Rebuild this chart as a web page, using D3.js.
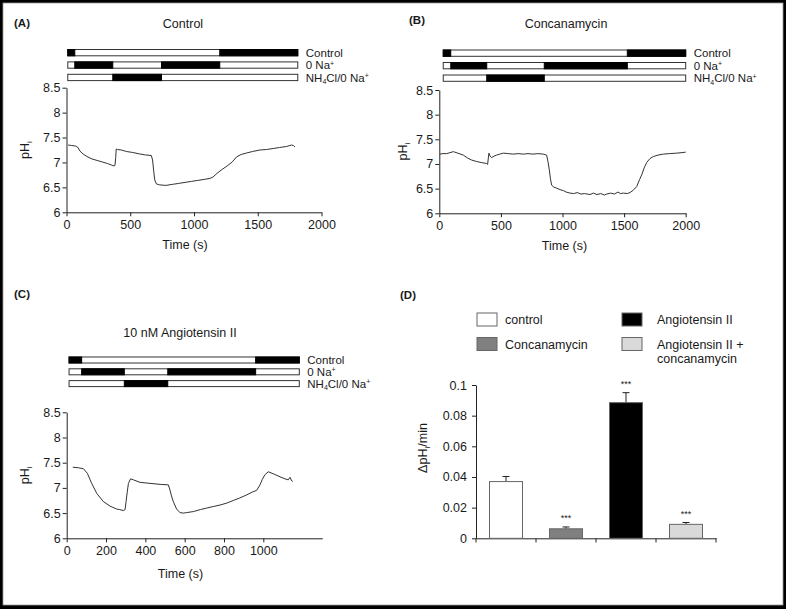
<!DOCTYPE html>
<html>
<head>
<meta charset="utf-8">
<script src="https://cdn.jsdelivr.net/npm/d3@7"></script>
<style>
  body { margin: 0; background: #000; }
  svg text { font-family: "Liberation Sans", Arial, sans-serif; fill: #1a1a1a; }
</style>
</head>
<body>
<svg id="fig" width="786" height="609"></svg>
<script>
// ---- data ----
// pHi traces, [time (s), pHi]
const traceA = [[13,7.35],[40,7.34],[70,7.33],[90,7.30],[105,7.23],[130,7.17],[160,7.12],[200,7.07],[240,7.04],[280,7.01],[320,6.98],[350,6.95],[372,6.93],[380,6.94],[386,7.10],[390,7.27],[400,7.26],[430,7.25],[470,7.22],[520,7.20],[575,7.17],[620,7.15],[665,7.14],[675,7.05],[683,6.85],[692,6.65],[705,6.57],[730,6.55],[780,6.54],[830,6.56],[880,6.58],[930,6.60],[980,6.62],[1030,6.64],[1080,6.66],[1125,6.68],[1150,6.71],[1180,6.78],[1220,6.86],[1260,6.93],[1300,7.01],[1333,7.11],[1370,7.16],[1412,7.19],[1460,7.22],[1516,7.25],[1570,7.26],[1621,7.28],[1670,7.30],[1725,7.32],[1765,7.35],[1780,7.34],[1792,7.31]]

const traceB = [[5,7.20],[30,7.21],[60,7.21],[87,7.23],[114,7.25],[150,7.22],[195,7.18],[230,7.12],[262,7.08],[303,7.05],[340,7.03],[384,7.01],[392,6.99],[398,7.12],[403,7.22],[412,7.16],[425,7.13],[445,7.16],[465,7.18],[490,7.20],[520,7.22],[560,7.21],[600,7.20],[640,7.21],[682,7.20],[720,7.21],[760,7.20],[800,7.21],[844,7.20],[871,7.18],[882,7.05],[893,6.88],[902,6.70],[912,6.57],[930,6.53],[953,6.51],[980,6.48],[1007,6.46],[1030,6.43],[1061,6.41],[1090,6.40],[1120,6.42],[1150,6.39],[1180,6.40],[1223,6.38],[1250,6.41],[1280,6.38],[1310,6.40],[1340,6.37],[1359,6.39],[1390,6.41],[1420,6.39],[1450,6.43],[1470,6.40],[1494,6.41],[1525,6.40],[1548,6.42],[1575,6.47],[1602,6.54],[1625,6.68],[1643,6.78],[1663,6.92],[1683,7.03],[1710,7.11],[1737,7.15],[1775,7.18],[1818,7.20],[1870,7.21],[1927,7.22],[1970,7.23],[2000,7.24]]

const traceC = [[31,7.41],[59,7.40],[85,7.38],[105,7.29],[127,7.09],[153,6.89],[186,6.73],[220,6.64],[254,6.58],[270,6.57],[288,6.55],[297,6.57],[302,6.73],[308,6.92],[314,7.09],[325,7.18],[339,7.16],[373,7.11],[424,7.09],[475,7.07],[517,7.06],[525,6.96],[533,6.84],[542,6.73],[559,6.58],[576,6.51],[593,6.50],[610,6.51],[644,6.53],[680,6.57],[712,6.60],[745,6.63],[780,6.66],[815,6.70],[847,6.75],[880,6.80],[915,6.86],[945,6.92],[966,6.95],[983,7.06],[995,7.17],[1008,7.26],[1025,7.32],[1051,7.28],[1085,7.22],[1110,7.18],[1127,7.16],[1136,7.21],[1144,7.14],[1150,7.13]]

// protocol bars: full extent and black segments per row (Control, 0 Na+, NH4Cl/0 Na+)
const protoRangeA = [10, 1814]
const protoBlackA = [[[10,65],[1202,1814]], [[65,363],[745,1202]], [[363,745]]]
const protoRangeB = [32, 2000]
const protoBlackB = [[[32,93],[1526,2000]], [[93,385],[852,1526]], [[385,852]]]
const protoRangeC = [12, 1183]
const protoBlackC = [[[12,76],[961,1183]], [[76,293],[514,961]], [[293,514]]]

const phTicks = [6, 6.5, 7, 7.5, 8, 8.5]
const timeTicksAB = [0, 500, 1000, 1500, 2000]
const timeTicksC = [0, 200, 400, 600, 800, 1000]

// panel D
const groups = ["control", "Concanamycin", "Angiotensin II", "Angiotensin II + concanamycin"]
const rates = [0.037, 0.0062, 0.0885, 0.0091]
const rateErr = [0.0033, 0.0012, 0.0065, 0.0012]
const stars = ["", "***", "***", "***"]
const rateTicks = [0, 0.02, 0.04, 0.06, 0.08, 0.1]
const barFill = ["#ffffff", "#808080", "#000000", "#d9d9d9"]

const svg = d3.select("#fig")
svg.append("rect").attr("x", 3).attr("y", 3).attr("width", 780).attr("height", 602)
  .attr("fill", "#fff").attr("stroke", "#999").attr("stroke-width", 0.8)

const FS = 12.5

function addLabel(x, y, txt) {
  svg.append("text").attr("x", x).attr("y", y)
    .style("font-size", "11.5px").style("font-weight", "bold").text(txt)
}

function styleAxis(g) {
  g.select(".domain").attr("stroke", "#222")
  g.selectAll(".tick line").attr("stroke", "#222")
  g.selectAll(".tick text").style("font-size", FS + "px").attr("fill", "#222")
    .style("font-family", '"Liberation Sans", Arial, sans-serif')
}

function phLabel(x, y) {
  const t = svg.append("text").attr("transform", `translate(${x},${y}) rotate(-90)`)
    .attr("text-anchor", "middle").style("font-size", FS + "px")
  t.append("tspan").text("pH")
  t.append("tspan").attr("dy", 3).style("font-size", "8px").text("i")
}

function tracePanel(o) {
  const x = d3.scaleLinear().domain(o.xDomain).range(o.xRange)
  const y = d3.scaleLinear().domain([6, 8.5]).range(o.yRange)

  svg.append("g").attr("transform", `translate(0,${o.yRange[0]})`)
    .call(d3.axisBottom(x).tickValues(o.xTicks).tickFormat(d3.format("d")).tickSize(4).tickSizeOuter(0).tickPadding(4))
    .call(styleAxis)
  svg.append("g").attr("transform", `translate(${o.xRange[0]},0)`)
    .call(d3.axisLeft(y).tickValues(phTicks).tickFormat(d3.format("")).tickSize(4).tickSizeOuter(0).tickPadding(2))
    .call(styleAxis)

  svg.append("path").datum(o.trace)
    .attr("fill", "none").attr("stroke", "#333").attr("stroke-width", 1)
    .attr("d", d3.line().x(d => x(d[0])).y(d => y(d[1])))

  // title
  svg.append("text").attr("x", o.titleX).attr("y", o.titleY)
    .attr("text-anchor", "middle").style("font-size", FS + "px").text(o.title)

  // protocol bars
  o.black.forEach((segs, i) => {
    const yy = o.barTop + i * o.barStep
    svg.append("rect").attr("x", x(o.range[0])).attr("y", yy)
      .attr("width", x(o.range[1]) - x(o.range[0])).attr("height", o.barH)
      .attr("fill", "#fff").attr("stroke", "#333").attr("stroke-width", 1)
    svg.selectAll(null).data(segs).join("rect")
      .attr("x", d => x(d[0])).attr("y", yy)
      .attr("width", d => x(d[1]) - x(d[0])).attr("height", o.barH)
      .attr("fill", "#000").attr("stroke", "#000").attr("stroke-width", 1)
  })
  const lx = x(o.range[1]) + 8
  const ly = o.barTop + o.barH
  const fs = o.legFs + "px"
  svg.append("text").attr("x", lx).attr("y", ly + 1).style("font-size", fs).text("Control")
  const t2 = svg.append("text").attr("x", lx).attr("y", ly + o.barStep + 1).style("font-size", fs)
  t2.append("tspan").text("0 Na")
  t2.append("tspan").attr("dy", -3.5).style("font-size", "7px").text("+")
  const t3 = svg.append("text").attr("x", lx).attr("y", ly + 2 * o.barStep + 1).style("font-size", fs)
  t3.append("tspan").text("NH")
  t3.append("tspan").attr("dy", 2.5).style("font-size", "7px").text("4")
  t3.append("tspan").attr("dy", -2.5).text("Cl/0 Na")
  t3.append("tspan").attr("dy", -3.5).style("font-size", "7px").text("+")

  phLabel(o.phX, (o.yRange[0] + o.yRange[1]) / 2)
  svg.append("text").attr("x", (o.xRange[0] + o.xRange[1]) / 2 + o.timeDx).attr("y", o.timeY)
    .attr("text-anchor", "middle").style("font-size", FS + "px").text("Time (s)")
}

// (A)
addLabel(14, 27, "(A)")
tracePanel({
  trace: traceA, xDomain: [0, 2000], xRange: [66.5, 321.5], yRange: [212.3, 87.7],
  xTicks: timeTicksAB, title: "Control", titleX: 183, titleY: 28,
  range: protoRangeA, black: protoBlackA, barTop: 49.5, barStep: 12.4, barH: 6.3, legFs: 11.5,
  phX: 29, timeY: 249, timeDx: -9
})

// (B)
addLabel(409, 24, "(B)")
tracePanel({
  trace: traceB, xDomain: [0, 2000], xRange: [439.3, 685.7], yRange: [213.3, 90],
  xTicks: timeTicksAB, title: "Concanamycin", titleX: 566, titleY: 28,
  range: protoRangeB, black: protoBlackB, barTop: 50, barStep: 12.5, barH: 6.3, legFs: 11.5,
  phX: 407, timeY: 250, timeDx: 2
})

// (C)
addLabel(14, 298, "(C)")
tracePanel({
  trace: traceC, xDomain: [0, 1300], xRange: [66.7, 322.3], yRange: [538.3, 412.3],
  xTicks: timeTicksC, title: "10 nM Angiotensin II", titleX: 180, titleY: 337,
  range: protoRangeC, black: protoBlackC, barTop: 357, barStep: 11.8, barH: 6, legFs: 11.5,
  phX: 29, timeY: 578, timeDx: -14
})

// (D)
addLabel(400, 299, "(D)")
{
  const x = d3.scaleBand().domain(groups).range([476, 716]).paddingInner(0.45).paddingOuter(0.225)
  const y = d3.scaleLinear().domain([0, 0.1]).range([538.3, 385])

  const gx = svg.append("g").attr("transform", "translate(0,538.3)")
    .call(d3.axisBottom(x).tickSize(0).tickSizeOuter(0).tickFormat(""))
  gx.select(".domain").attr("stroke", "#222")
  // category separators below the axis
  const step = x.step()
  svg.selectAll(null).data(d3.range(groups.length + 1)).join("line")
    .attr("x1", i => 476 + i * step).attr("x2", i => 476 + i * step)
    .attr("y1", 538.3).attr("y2", 542.5).attr("stroke", "#222")

  svg.append("g").attr("transform", "translate(476,0)")
    .call(d3.axisLeft(y).tickValues(rateTicks).tickFormat(d3.format("")).tickSize(4).tickSizeOuter(0).tickPadding(5))
    .call(styleAxis)

  // error bars (upward only)
  groups.forEach((g, i) => {
    const cx = x(g) + x.bandwidth() / 2
    svg.append("line").attr("x1", cx).attr("x2", cx)
      .attr("y1", y(rates[i])).attr("y2", y(rates[i] + rateErr[i])).attr("stroke", "#222")
    svg.append("line").attr("x1", cx - 3.5).attr("x2", cx + 3.5)
      .attr("y1", y(rates[i] + rateErr[i])).attr("y2", y(rates[i] + rateErr[i])).attr("stroke", "#222")
  })

  svg.selectAll(null).data(groups).join("rect")
    .attr("x", d => x(d)).attr("width", x.bandwidth())
    .attr("y", (d, i) => y(rates[i])).attr("height", (d, i) => 538.3 - y(rates[i]))
    .attr("fill", (d, i) => barFill[i]).attr("stroke", "#666").attr("stroke-width", 1)

  svg.selectAll(null).data(groups).join("text")
    .attr("x", d => x(d) + x.bandwidth() / 2)
    .attr("y", (d, i) => y(rates[i] + rateErr[i]) - 6)
    .attr("text-anchor", "middle").style("font-size", "9px").text((d, i) => stars[i])

  const yl = svg.append("text").attr("transform", "translate(427,448) rotate(-90)")
    .attr("text-anchor", "middle").style("font-size", FS + "px")
  yl.append("tspan").text("ΔpH")
  yl.append("tspan").attr("dy", 3).style("font-size", "8px").text("i")
  yl.append("tspan").attr("dy", -3).text("/min")

  // legend
  const legX = [477, 477, 622, 622]
  const legY = [313, 337.5, 313, 337.5]
  groups.forEach((g, i) => {
    svg.append("rect").attr("x", legX[i]).attr("y", legY[i]).attr("width", 20).attr("height", 13)
      .attr("fill", barFill[i]).attr("stroke", "#666")
  })
  const legText = [["control"], ["Concanamycin"], ["Angiotensin II"], ["Angiotensin II +", "concanamycin"]]
  legText.forEach((lines, i) => {
    const t = svg.append("text").attr("y", legY[i] + 11).style("font-size", FS + "px")
    lines.forEach((s, j) => t.append("tspan").attr("x", legX[i] + (i >= 2 ? 35 : 28)).attr("dy", j ? 14.5 : 0).text(s))
  })
}
</script>
</body>
</html>
